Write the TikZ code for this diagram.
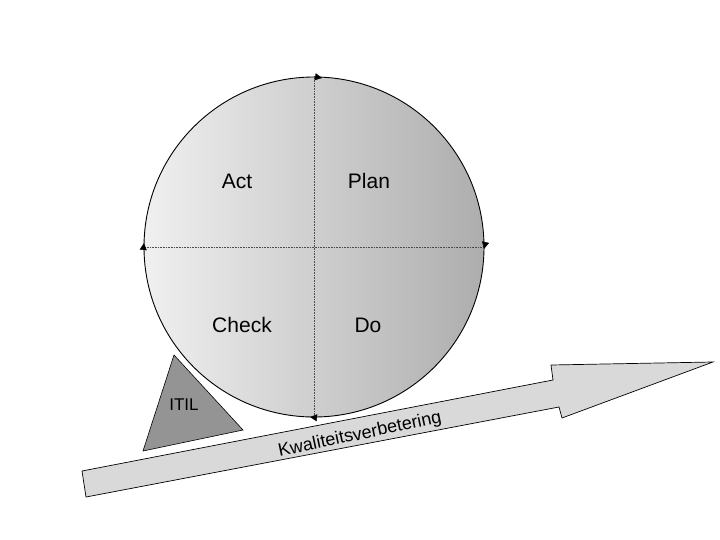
\documentclass[tikz,border=0pt]{standalone}
\usepackage{fontspec}
\setmainfont{Liberation Sans}
\usetikzlibrary{arrows.meta}
\begin{document}
\begin{tikzpicture}[x=1pt,y=-1pt,
  lbl/.style={font=\fontsize{21}{24}\selectfont},
  div/.style={densely dotted,line width=0.6pt,black!70},
  tipm/.style={-{Triangle[length=7pt,width=7pt]}}]
\useasboundingbox (0,0) rectangle (720,540);
\node[draw,line width=0.9pt,circle,minimum size=340pt,inner sep=0pt,left color=black!6,right color=black!32] (c) at (314,247) {};
\draw[div] (c.north) -- (c.south);
\draw[div] (c.west) -- (c.east);
\coordinate (t1) at (322,78);
\draw[tipm] (c.north) -- (t1);
\coordinate (t2) at (484,249);
\draw[tipm] (c.east) -- (t2);
\coordinate (t3) at (310,417);
\draw[tipm] (c.south) -- (t3);
\coordinate (t4) at (144,243);
\draw[tipm] (c.west) -- (t4);
\node[lbl] (act) at (237,181) {Act};
\node[lbl] (plan) at (369,181) {Plan};
\node[lbl] (check) at (242,325) {Check};
\node[lbl] (do) at (368,325) {Do};
\draw[fill=black!42,line width=0.6pt] (174,355) -- (143,451) -- (243,430) -- cycle;
\node[font=\fontsize{17}{19}\selectfont] (itil) at (184,405) {ITIL};
\draw[fill=black!15,line width=0.7pt] (82,471) -- (553,380) -- (551,365) -- (713,362) -- (562,418) -- (559,407) -- (86,497) -- cycle;
\node[font=\fontsize{18}{20}\selectfont,rotate=12] (kw) at (360,435) {Kwaliteitsverbetering};
\end{tikzpicture}
\end{document}
